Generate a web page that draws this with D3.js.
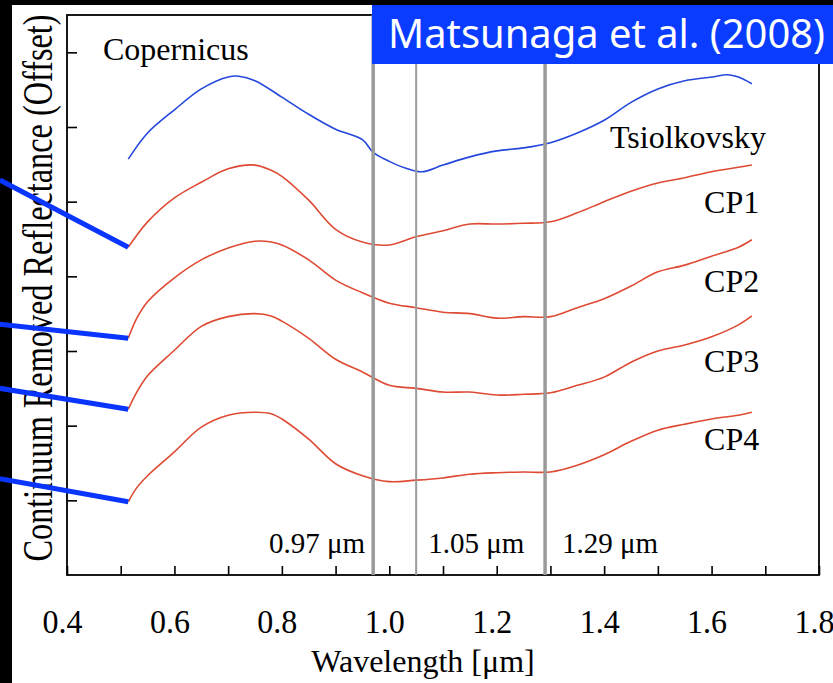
<!DOCTYPE html>
<html>

<head>
  <meta charset="utf-8">
  <title>Continuum removed spectra</title>
  <script src="https://cdn.jsdelivr.net/npm/d3@7/dist/d3.min.js"></script>
  <style>
    body { margin: 0; background: #000; }
    svg text { font-family: "Liberation Serif", "Times New Roman", serif; fill: #000; }
  </style>
</head>

<body>
  <svg id="chart" width="833" height="683"></svg>

  <script>
    // wavelengths [um] and offset reflectance
    var copWl = [0.514, 0.55, 0.6, 0.65, 0.7, 0.72, 0.75, 0.8, 0.85, 0.9, 0.95, 0.97, 1.0, 1.03, 1.06,
      1.1, 1.15, 1.2, 1.25, 1.3, 1.35, 1.4, 1.45, 1.5, 1.55, 1.6, 1.63, 1.65, 1.675];
    var copernicus = [5.57, 5.92, 6.23, 6.51, 6.67, 6.68, 6.62, 6.40, 6.17, 5.97, 5.83, 5.66, 5.54, 5.45, 5.40,
      5.49, 5.60, 5.68, 5.72, 5.79, 5.92, 6.09, 6.33, 6.51, 6.62, 6.67, 6.70, 6.67, 6.58];

    var cpWl = [0.514, 0.53, 0.55, 0.6, 0.65, 0.7, 0.75, 0.78, 0.8, 0.85, 0.9, 0.95, 1.0, 1.05,
      1.1, 1.15, 1.2, 1.25, 1.3, 1.35, 1.4, 1.45, 1.5, 1.55, 1.6, 1.65, 1.675];
    var cp1 = [4.39, 4.55, 4.73, 5.05, 5.26, 5.44, 5.49, 5.42, 5.34, 5.02, 4.63, 4.46, 4.42, 4.53,
      4.61, 4.70, 4.70, 4.71, 4.73, 4.85, 5.00, 5.14, 5.25, 5.32, 5.40, 5.46, 5.49];
    var cp2 = [3.17, 3.44, 3.66, 3.98, 4.22, 4.38, 4.47, 4.46, 4.42, 4.22, 3.95, 3.78, 3.64, 3.58,
      3.52, 3.50, 3.44, 3.46, 3.46, 3.58, 3.70, 3.87, 4.06, 4.15, 4.27, 4.39, 4.49];
    var cp3 = [2.22, 2.45, 2.67, 3.01, 3.33, 3.46, 3.50, 3.47, 3.40, 3.17, 2.89, 2.72, 2.54, 2.50,
      2.45, 2.45, 2.41, 2.42, 2.44, 2.54, 2.65, 2.85, 3.00, 3.08, 3.19, 3.35, 3.47];
    var cp4 = [0.98, 1.17, 1.33, 1.65, 1.98, 2.14, 2.18, 2.16, 2.09, 1.82, 1.49, 1.33, 1.25, 1.27,
      1.30, 1.35, 1.37, 1.38, 1.38, 1.47, 1.61, 1.79, 1.94, 2.02, 2.09, 2.14, 2.18];

    var seriesNames = ['Copernicus', 'Tsiolkovsky', 'CP1', 'CP2', 'CP3', 'CP4'];

    // absorption band markers
    var bands = [0.97, 1.05, 1.29];
    var bandLabels = ['0.97 μm', '1.05 μm', '1.29 μm'];

    var xTicks = [0.4, 0.5, 0.6, 0.7, 0.8, 0.9, 1.0, 1.1, 1.2, 1.3, 1.4, 1.5, 1.6, 1.7, 1.8];
    var yTicks = [1, 2, 3, 4, 5, 6, 7];

    // blue pointer lines coming in from the left edge (start height, offset units)
    var pointerWl = 0.275;
    var pointerY = [5.29, 3.36, 2.50, 1.29];

    var svg = d3.select('#chart'),
      width = +svg.attr('width'),
      height = +svg.attr('height');

    var x = d3.scaleLinear().domain([0.4, 1.8]).range([67, 819]);
    var y = d3.scaleLinear().domain([0, 7.5]).range([575, 15]);

    // page background
    svg.append('rect').attr('width', width).attr('height', height).attr('fill', '#000');
    svg.append('rect').attr('x', 12).attr('y', 5).attr('width', width - 12).attr('height', height - 5)
      .attr('fill', '#fff');

    // axes: ticks point inwards
    var xAxis = svg.append('g')
      .attr('transform', 'translate(0,' + y(0) + ')')
      .call(d3.axisBottom(x).tickValues(xTicks).tickSize(-9).tickSizeOuter(0)
        .tickFormat(d => Math.round(d * 10) % 2 === 0 ? d3.format('.1f')(d) : ''));
    xAxis.select('.domain').remove();
    xAxis.selectAll('line').attr('stroke', '#000').attr('stroke-width', 1.6);
    xAxis.selectAll('text')
      .attr('y', 0).attr('dy', 0)
      .attr('transform', 'translate(-5,58) scale(1,1.07)')
      .style('font-family', '"Liberation Serif", serif').style('font-size', '32px');

    var yAxis = svg.append('g')
      .attr('transform', 'translate(' + x(0.4) + ',0)')
      .call(d3.axisLeft(y).tickValues(yTicks).tickSize(-10).tickSizeOuter(0).tickFormat(''));
    yAxis.select('.domain').remove();
    yAxis.selectAll('line').attr('stroke', '#000').attr('stroke-width', 1.6);

    // frame
    svg.append('rect')
      .attr('x', x(0.4)).attr('y', y(7.5))
      .attr('width', x(1.8) - x(0.4)).attr('height', y(0) - y(7.5))
      .attr('fill', 'none').attr('stroke', '#000').attr('stroke-width', 1.8);

    // spectra
    var line = d3.line()
      .x(d => x(d[0]))
      .y(d => y(d[1]))
      .curve(d3.curveCatmullRom.alpha(0.5));

    var spectra = [
      { wl: copWl, v: copernicus, color: '#2447dc' },
      { wl: cpWl, v: cp1, color: '#de4a33' },
      { wl: cpWl, v: cp2, color: '#de4a33' },
      { wl: cpWl, v: cp3, color: '#de4a33' },
      { wl: cpWl, v: cp4, color: '#de4a33' }
    ];

    svg.selectAll('.spectrum')
      .data(spectra)
      .enter()
      .append('path')
      .attr('class', 'spectrum')
      .attr('d', d => line(d.wl.map((w, i) => [w, d.v[i]])))
      .attr('fill', 'none')
      .attr('stroke', d => d.color)
      .attr('stroke-width', 1.6);

    // band lines
    svg.selectAll('.band')
      .data(bands)
      .enter()
      .append('line')
      .attr('class', 'band')
      .attr('x1', d => x(d)).attr('x2', d => x(d))
      .attr('y1', y(0)).attr('y2', y(7.5))
      .attr('stroke', '#9a9a9a')
      .attr('stroke-width', (d, i) => i === 1 ? 2 : 3.5);

    var bandLabelPos = [{ dx: -8, anchor: 'end' }, { dx: 12, anchor: 'start' }, { dx: 17, anchor: 'start' }];
    svg.selectAll('.band-label')
      .data(bandLabels)
      .enter()
      .append('text')
      .attr('class', 'band-label')
      .attr('x', (d, i) => x(bands[i]) + bandLabelPos[i].dx)
      .attr('y', y(0.3))
      .attr('text-anchor', (d, i) => bandLabelPos[i].anchor)
      .style('font-size', '29px')
      .text(d => d);

    // series names
    var namePos = [[0.467, 6.90], [1.411, 5.72], [1.586, 4.85], [1.586, 3.79], [1.586, 2.72], [1.586, 1.67]];
    svg.selectAll('.name')
      .data(seriesNames)
      .enter()
      .append('text')
      .attr('class', 'name')
      .attr('x', (d, i) => x(namePos[i][0]))
      .attr('y', (d, i) => y(namePos[i][1]))
      .style('font-size', '32px')
      .text(d => d);

    // axis titles
    svg.append('text')
      .attr('x', 423).attr('y', 672)
      .attr('text-anchor', 'middle')
      .style('font-size', '32px')
      .text('Wavelength [μm]');

    svg.append('text')
      .attr('transform', 'translate(52,288) rotate(-90)')
      .attr('text-anchor', 'middle')
      .attr('textLength', 547)
      .attr('lengthAdjust', 'spacingAndGlyphs')
      .style('font-size', '42px')
      .text('Continuum Removed Reflectance (Offset)');

    // pointers to the CP spectra
    var cpSeries = [cp1, cp2, cp3, cp4];
    svg.selectAll('.pointer')
      .data(pointerY)
      .enter()
      .append('line')
      .attr('class', 'pointer')
      .attr('x1', x(pointerWl)).attr('y1', d => y(d))
      .attr('x2', x(cpWl[0])).attr('y2', (d, i) => y(cpSeries[i][0]))
      .attr('stroke', '#0a35ff')
      .attr('stroke-width', 5);

    // citation box
    svg.append('rect')
      .attr('x', 372).attr('y', 5)
      .attr('width', width - 372).attr('height', 59)
      .attr('fill', '#0a3cff');
    svg.append('text')
      .attr('x', 388).attr('y', 48)
      .attr('textLength', 437)
      .attr('lengthAdjust', 'spacingAndGlyphs')
      .style('font-family', '"Noto Sans", sans-serif')
      .style('font-size', '40px')
      .style('fill', '#fff')
      .text('Matsunaga et al. (2008)');
  </script>
</body>

</html>
